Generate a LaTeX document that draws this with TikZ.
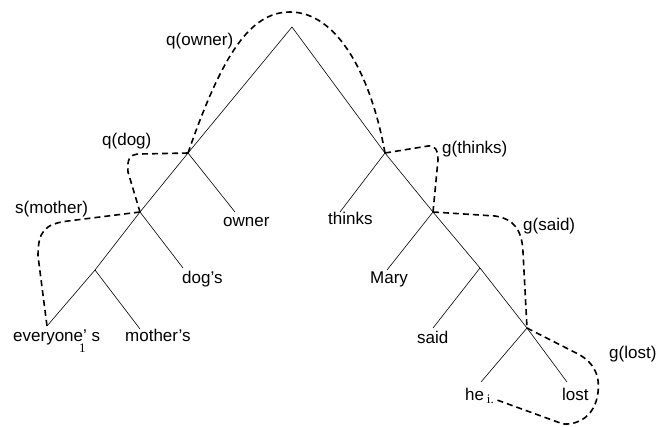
\documentclass[tikz,border=0pt]{standalone}
\usepackage{fontspec}
\setmainfont{Liberation Sans}
\newfontfamily\subfont{Liberation Serif}
\newcommand{\sub}[1]{\raisebox{-3pt}{\subfont\fontsize{13}{13}\selectfont #1}}
\begin{document}
\begin{tikzpicture}[x=1pt,y=-1pt,
    word/.style={anchor=base west,inner sep=0pt,font=\fontsize{17}{17}\selectfont},
    branch/.style={line width=0.6pt},
    track/.style={line width=1.6pt,dash pattern=on 6pt off 4pt}]
      \useasboundingbox(0,0)rectangle(656,426);
      \coordinate(A)at(292,27);\coordinate(B)at(188,153);\coordinate(C)at(385,153);
      \coordinate(D)at(140,212);\coordinate(E)at(95,270);\coordinate(F)at(433,212);
      \coordinate(G)at(480,268);\coordinate(H)at(527,328);
      \coordinate(a)at(47,326);\coordinate(b)at(140,329);\coordinate(c)at(183,268);
      \coordinate(d)at(235,212);\coordinate(e)at(340,212);\coordinate(f)at(387,270);
      \coordinate(g)at(433,328);\coordinate(h)at(481,382);\coordinate(i)at(567,382);
      \coordinate(j)at(497,400);
      \draw[branch](a)--(E)--(D)--(B)--(A)--(C)--(F)--(G)--(H)--(i)
           (E)--(b) (D)--(c) (B)--(d) (C)--(e) (F)--(f) (G)--(g) (H)--(h);
      \foreach \n/\x/\y/\t in{ev/13/341/{everyone\rlap{\kern-4pt\raisebox{-11pt}{\subfont\fontsize{13}{13}\selectfont 1}}' s},
          mo/125/341/mother's, dg/182/283/dog's, ow/223/226/owner, th/328/224/thinks,
          ma/370/283/Mary, sa/417/343/said, he/465/400/{he\,\sub{i.}}, lo/562/400/lost,
          qo/166/45/q(owner), qd/102/145/q(dog), sm/15/213/s(mother),
          gt/442/153/g(thinks), gs/523/230/g(said), gl/609/358/g(lost)}{
        \node[word](\n)at(\x,\y){\t};
      }
      \draw[track](B) .. controls (222,55) and (250,12) .. (290,12)
                      .. controls (335,12) and (370,70) .. (C);
      \draw[track](B)--(140,154) .. controls (129,154) and (127,160) .. (128,172)--(D);
      \draw[track](D)--(68,221) .. controls (44,224) and (38,232) .. (38,256)--(a);
      \draw[track](C)--(428,146) .. controls (435,145) and (438,150) .. (438,160)--(F);
      \draw[track](F)--(495,216) .. controls (514,219) and (522,230) .. (523,252)--(H);
      \draw[track](H)--(580,355) .. controls (600,367) and (600,385) .. (597,398)
                     .. controls (593,415) and (580,425) .. (563,424)--(j);
    \end{tikzpicture}
\end{document}
